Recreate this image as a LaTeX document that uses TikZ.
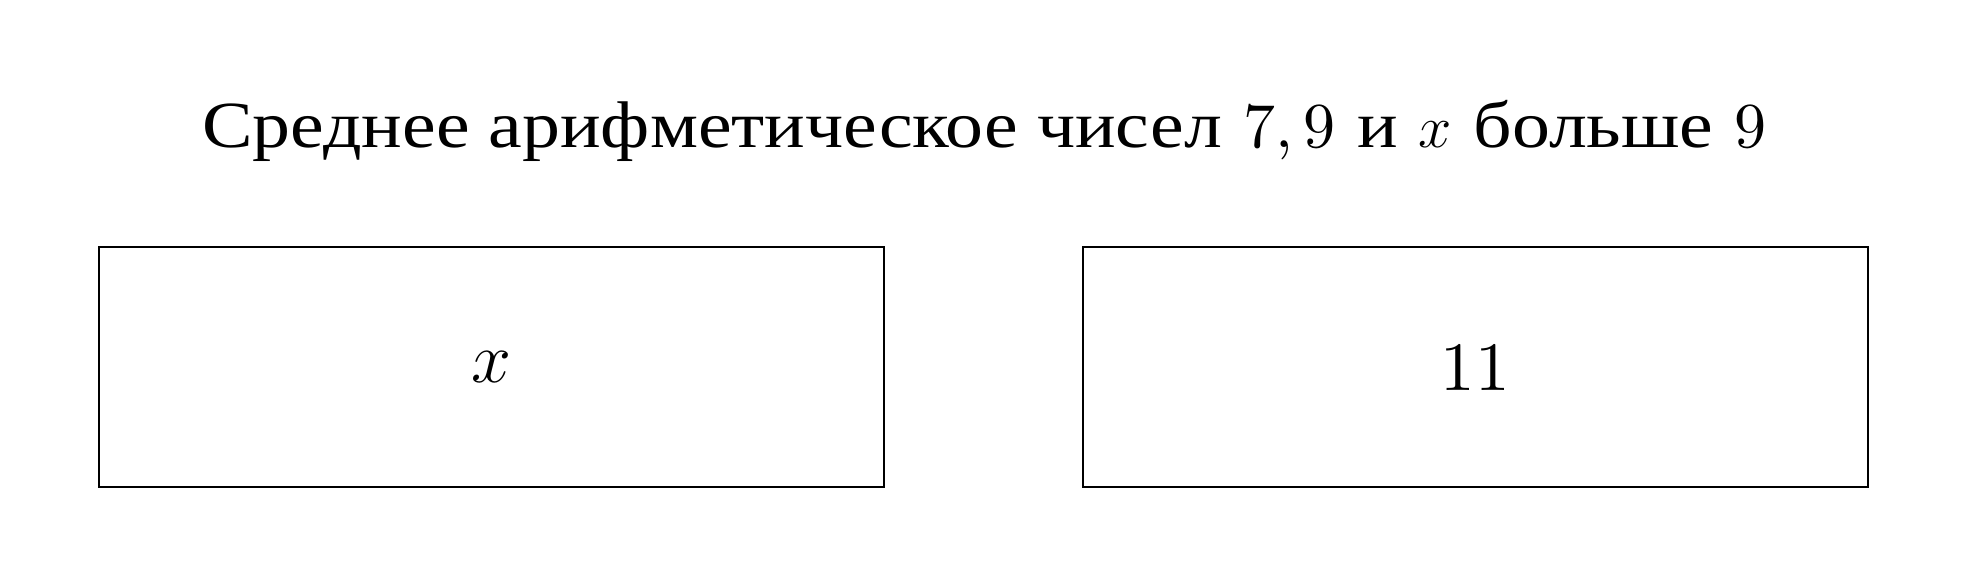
\documentclass[tikz,border=0pt]{standalone}
\usepackage{fontspec}
\setmainfont{lmroman10-regular}[Extension=.otf]
\newfontfamily\cyrfont{Liberation Serif}[FakeStretch=1.15, Scale=1.03]
\usetikzlibrary{positioning}

\begin{document}
\begin{tikzpicture}[valbox/.style={rectangle, draw, line width=0.7pt, minimum width=7.97cm, minimum height=2.44cm, font=\fontsize{20}{24}\selectfont}]
    \useasboundingbox (0,0) rectangle (20,5.9726);
    \node[anchor=base, font=\fontsize{18.5}{22}\selectfont] (title) at (10,4.479) {{\cyrfont Среднее арифметическое чисел} 7,\,9 {\cyrfont и} $x$ {\cyrfont больше} 9};
    \node[valbox] (xbox) at (4.993,2.245) {$x$};
    \node[valbox, right=2cm of xbox] (valbox11) {11};
\end{tikzpicture}
\end{document}
